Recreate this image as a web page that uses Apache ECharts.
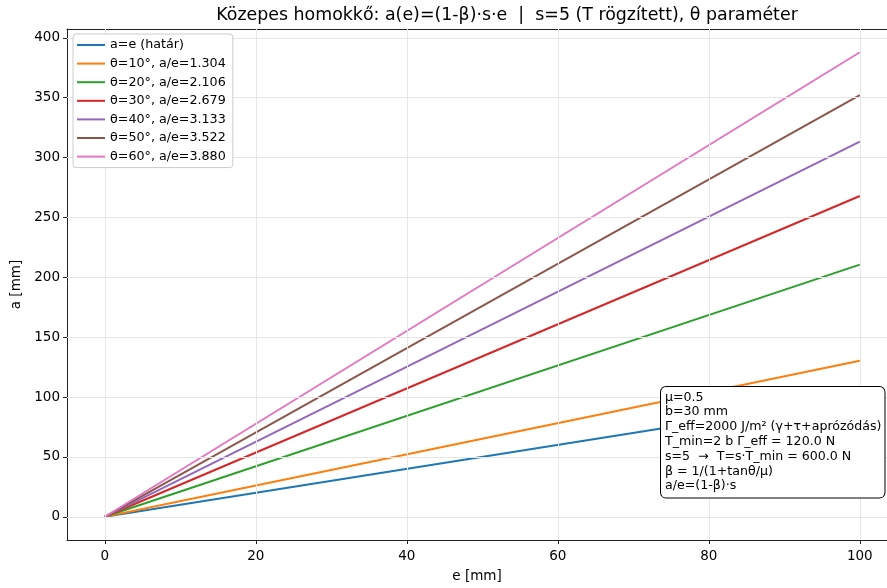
<!DOCTYPE html>
<html><head><meta charset="utf-8">
<script src="https://cdn.jsdelivr.net/npm/echarts@6/dist/echarts.min.js"></script>
<style>html,body{margin:0;padding:0;background:#fff}#c{width:887px;height:588px}</style>
</head><body><div id="c"></div>
<script>
const seriesNames = ['a=e (határ)','θ=10°, a/e=1.304','θ=20°, a/e=2.106','θ=30°, a/e=2.679','θ=40°, a/e=3.133','θ=50°, a/e=3.522','θ=60°, a/e=3.880'];
const ratios = [1.0, 1.304, 2.106, 2.679, 3.133, 3.522, 3.880];
const eValues = [0, 100];
const colors = ['#1f77b4','#ff7f0e','#2ca02c','#d62728','#9467bd','#8c564b','#e377c2'];
const xTicks = [0,20,40,60,80,100];
const yTicks = [0,50,100,150,200,250,300,350,400];
const titleText = 'Közepes homokkő: a(e)=(1-β)·s·e  |  s=5 (T rögzített), θ paraméter';
const boxLines = ['μ=0.5','b=30 mm','Γ_eff=2000 J/m² (γ+τ+aprózódás)','T_min=2 b Γ_eff = 120.0 N','s=5  →  T=s·T_min = 600.0 N','β = 1/(1+tanθ/μ)','a/e=(1-β)·s'];

const font = 'DejaVu Sans';
const chart = echarts.init(document.getElementById('c'));
const series = seriesNames.map((n,i)=>({
  name:n, type:'line', showSymbol:false, symbol:'none',
  data: eValues.map(e=>[e, ratios[i]*e]),
  lineStyle:{color:colors[i], width:2}, itemStyle:{color:colors[i]},
  z: 3
}));
const xMin = -5, xMax = 103.6;
chart.setOption({
  animation:false,
  title:{text:titleText, left:502, top:2, textAlign:'center',
    textStyle:{fontFamily:font, fontSize:17.4, fontWeight:'normal', color:'#000'}},
  grid:{left:67, top:29, right:0, height:512.5, containLabel:false},
  xAxis:[{type:'value', min:xMin, max:xMax,
    name:'e [mm]', nameLocation:'middle', nameGap:29,
    nameTextStyle:{fontFamily:font, fontSize:13.5, color:'#000'},
    axisLine:{show:true, onZero:false, lineStyle:{color:'#222', width:1}},
    axisTick:{show:true, length:4, customValues:xTicks, lineStyle:{color:'#222'}},
    axisLabel:{customValues:xTicks, fontFamily:font, fontSize:13.5, color:'#000', margin:9},
    splitLine:{show:false}},
   {type:'value', position:'top', min:xMin, max:xMax,
    axisLine:{show:true, onZero:false, lineStyle:{color:'#222', width:1}},
    axisTick:{show:false}, axisLabel:{show:false}, splitLine:{show:false}}],
  yAxis:{type:'value', min:-19.4, max:407.4,
    name:'a [mm]', nameLocation:'middle', nameGap:42,
    nameTextStyle:{fontFamily:font, fontSize:13.5, color:'#000'},
    axisLine:{show:true, onZero:false, lineStyle:{color:'#222', width:1}},
    axisTick:{show:true, length:4, customValues:yTicks, lineStyle:{color:'#222'}},
    axisLabel:{customValues:yTicks, fontFamily:font, fontSize:13.5, color:'#000', margin:7},
    splitLine:{show:false}},
  legend:{orient:'vertical', left:73, top:34, itemWidth:28, itemHeight:2, itemGap:4.6,
    icon:'rect', padding:[4,7,4,4], z:20,
    backgroundColor:'#fff', borderColor:'#ccc', borderWidth:1, borderRadius:3,
    textStyle:{fontFamily:font, fontSize:12.7, color:'#000', lineHeight:14}, data:seriesNames},
  series: series.concat([{
    type:'line', name:'grid', silent:true, data:[], symbol:'none', z:1,
    markLine:{silent:true, symbol:'none', label:{show:false},
      lineStyle:{color:'#e6e6e6', width:1, type:'solid'},
      data: xTicks.map(v=>({xAxis:v})).concat(yTicks.map(v=>({yAxis:v})))}
  }]),
  graphic:[{type:'text', left:660, top:386, z:10,
    style:{text:boxLines.join('\n'), fontFamily:font, fontSize:12.6, lineHeight:14.8, fill:'#000',
      backgroundColor:'#fff', borderColor:'#000', borderWidth:1, borderRadius:5, padding:[3,3,4,4]}}]
});
</script></body></html>
